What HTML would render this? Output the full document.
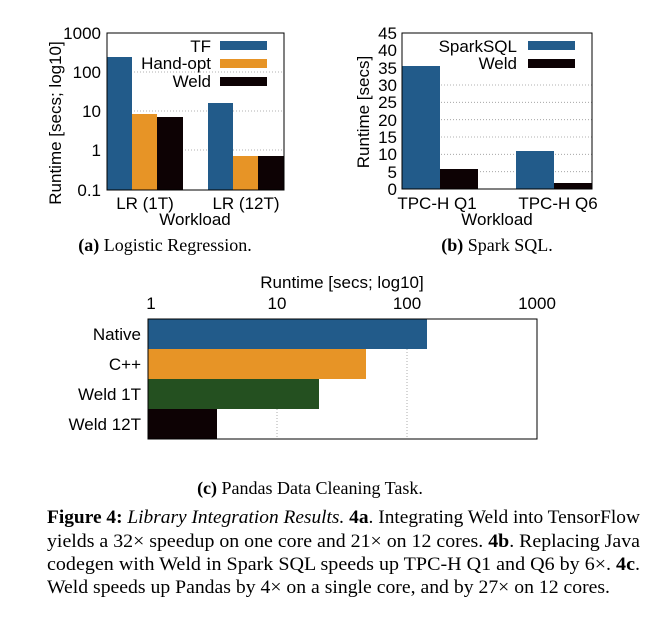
<!DOCTYPE html>
<html><head><meta charset="utf-8"><style>
html,body{margin:0;padding:0;background:#fff}
svg{display:block}
.s{font-family:"Liberation Sans",sans-serif;font-size:17px;fill:#000}
.r{font-family:"Liberation Serif",serif;fill:#000}
.g{stroke:#999;stroke-width:0.8;stroke-dasharray:1,2}
</style></head><body>
<svg width="656" height="625" viewBox="0 0 656 625">
<!-- Chart A -->
<g>
<line class="g" x1="107" y1="72" x2="284" y2="72"/><line class="g" x1="107" y1="111" x2="284" y2="111"/><line class="g" x1="107" y1="150" x2="284" y2="150"/>
<rect x="107" y="57" width="25" height="133" fill="#225b8a"/>
<rect x="132" y="114" width="25" height="76" fill="#e79426"/>
<rect x="157" y="117" width="26" height="73" fill="#0d0204"/>
<rect x="208" y="103" width="25" height="87" fill="#225b8a"/>
<rect x="233" y="156" width="25" height="34" fill="#e79426"/>
<rect x="258" y="156" width="26" height="34" fill="#0d0204"/>
<rect x="107" y="33" width="177" height="157" fill="none" stroke="#000" stroke-width="1"/>
<g class="s" text-anchor="end">
<text x="101" y="39">1000</text><text x="101" y="78">100</text><text x="101" y="117">10</text><text x="101" y="156">1</text><text x="101" y="196">0.1</text>
<text x="211" y="52">TF</text><text x="211" y="69">Hand-opt</text><text x="211" y="87">Weld</text>
</g>
<rect x="220" y="41" width="47" height="9" fill="#225b8a"/>
<rect x="220" y="59" width="47" height="9" fill="#e79426"/>
<rect x="220" y="77" width="47" height="9" fill="#0d0204"/>
<g class="s" text-anchor="middle">
<text x="145" y="209">LR (1T)</text><text x="246" y="209">LR (12T)</text>
<text x="195" y="225">Workload</text>
<text transform="translate(61,123) rotate(-90)">Runtime [secs; log10]</text>
</g>
<text class="r" x="165" y="251" text-anchor="middle" font-size="18"><tspan font-weight="bold">(a)</tspan> Logistic Regression.</text>
</g>
<!-- Chart B -->
<g>
<g>
<line class="g" x1="402" y1="171.7" x2="592" y2="171.7"/><line class="g" x1="402" y1="154.3" x2="592" y2="154.3"/><line class="g" x1="402" y1="137" x2="592" y2="137"/><line class="g" x1="402" y1="119.7" x2="592" y2="119.7"/><line class="g" x1="402" y1="102.3" x2="592" y2="102.3"/><line class="g" x1="402" y1="85" x2="592" y2="85"/>
</g>
<rect x="402" y="66" width="38" height="123" fill="#225b8a"/>
<rect x="440" y="169" width="38" height="20" fill="#0d0204"/>
<rect x="516" y="151" width="38" height="38" fill="#225b8a"/>
<rect x="554" y="183" width="38" height="6" fill="#0d0204"/>
<rect x="402" y="33" width="190" height="156" fill="none" stroke="#000" stroke-width="1"/>
<g class="s" text-anchor="end">
<text x="397" y="39">45</text><text x="397" y="56">40</text><text x="397" y="74">35</text><text x="397" y="91">30</text><text x="397" y="108">25</text><text x="397" y="126">20</text><text x="397" y="143">15</text><text x="397" y="160">10</text><text x="397" y="178">5</text><text x="397" y="195">0</text>
<text x="517" y="52">SparkSQL</text><text x="517" y="69">Weld</text>
</g>
<rect x="528" y="41" width="47" height="9" fill="#225b8a"/>
<rect x="528" y="59" width="47" height="9" fill="#0d0204"/>
<g class="s" text-anchor="middle">
<text x="437" y="209">TPC-H Q1</text><text x="558" y="209">TPC-H Q6</text>
<text x="497" y="225">Workload</text>
<text transform="translate(369,112) rotate(-90)">Runtime [secs]</text>
</g>
<text class="r" x="497" y="251" text-anchor="middle" font-size="18"><tspan font-weight="bold">(b)</tspan> Spark SQL.</text>
</g>
<!-- Chart C -->
<g>
<line class="g" x1="277" y1="319" x2="277" y2="439"/><line class="g" x1="407" y1="319" x2="407" y2="439"/>
<rect x="148" y="319" width="279" height="30" fill="#225b8a"/>
<rect x="148" y="349" width="218" height="30" fill="#e79426"/>
<rect x="148" y="379" width="171" height="30" fill="#245020"/>
<rect x="148" y="409" width="69" height="30" fill="#0d0204"/>
<rect x="148" y="319" width="389" height="120" fill="none" stroke="#000" stroke-width="1"/>
<g class="s" text-anchor="middle">
<text x="342" y="288">Runtime [secs; log10]</text>
<text x="151" y="309">1</text><text x="277" y="309">10</text><text x="407" y="309">100</text><text x="537" y="309">1000</text>
</g>
<g class="s" text-anchor="end">
<text x="141" y="340">Native</text><text x="141" y="370">C++</text><text x="141" y="400">Weld 1T</text><text x="141" y="430">Weld 12T</text>
</g>
<text class="r" x="310" y="494" text-anchor="middle" font-size="18"><tspan font-weight="bold">(c)</tspan> Pandas Data Cleaning Task.</text>
</g>
<!-- caption -->
<g class="r" font-size="19">
<text x="47" y="523" textLength="593" lengthAdjust="spacingAndGlyphs"><tspan font-weight="bold">Figure 4:</tspan> <tspan font-style="italic">Library Integration Results.</tspan> <tspan font-weight="bold">4a</tspan>. Integrating Weld into TensorFlow</text>
<text x="47" y="547" textLength="593" lengthAdjust="spacingAndGlyphs">yields a 32× speedup on one core and 21× on 12 cores. <tspan font-weight="bold">4b</tspan>. Replacing Java</text>
<text x="47" y="570" textLength="593" lengthAdjust="spacingAndGlyphs">codegen with Weld in Spark SQL speeds up TPC-H Q1 and Q6 by 6×. <tspan font-weight="bold">4c</tspan>.</text>
<text x="47" y="593" textLength="563" lengthAdjust="spacingAndGlyphs">Weld speeds up Pandas by 4× on a single core, and by 27× on 12 cores.</text>
</g>
</svg>
</body></html>
